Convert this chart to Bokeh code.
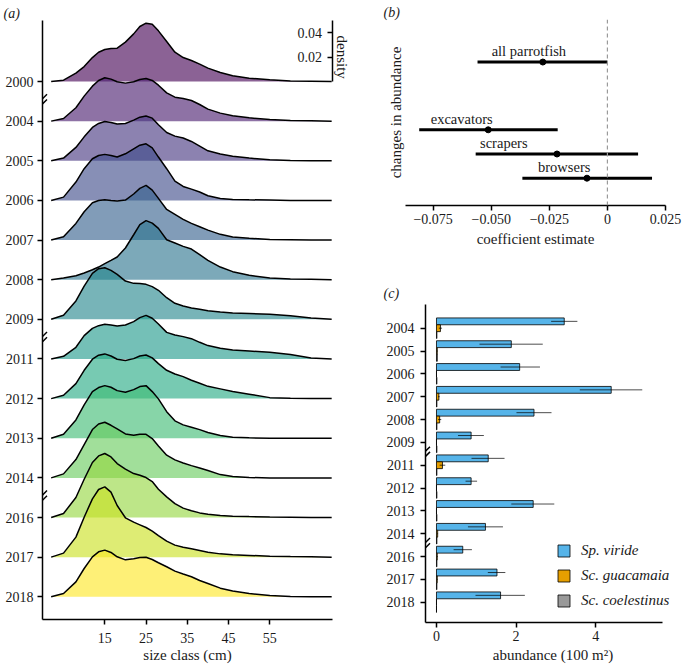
from bokeh.plotting import figure
from bokeh.models import (Range1d, LinearAxis, FixedTicker, Arrow, Span, Title,
                          Legend, LegendItem, CustomJSTickFormatter)
from bokeh.layouts import row, column
from bokeh.embed import file_html
from bokeh.resources import INLINE
from bokeh.palettes import viridis
from bokeh.core.properties import value

FONT = "Liberation Serif"
TXT = "#1a1a1a"

# ---------------- panel (a): size-class density ridges ----------------
size_cm = [2, 5, 8, 10, 12, 13.5, 15, 16.5, 18, 20, 22, 23.5, 25, 26.5, 28, 30,
           32, 34, 36, 38, 40, 43, 46, 50, 55, 60, 65, 70]
ridge_years = ["2000", "2004", "2005", "2006", "2007", "2008", "2009",
               "2011", "2012", "2013", "2014", "2016", "2017", "2018"]
# density values x 1000
d2000 = [0, 1.1, 6.9, 12.3, 19.7, 24.1, 26.3, 27.2, 27.4, 32.4, 39.2, 45.3, 48.0, 47.2, 41.7, 32.9, 24.1, 19.7, 17.3, 14.3, 11.0, 7.4, 4.7, 2.7, 1.4, 0.5, 0.3, 0]
d2004 = [0, 2.2, 11.0, 20.6, 28.8, 33.5, 35.7, 34.6, 32.4, 31.3, 32.4, 34.3, 35.1, 33.5, 29.6, 23.3, 19.7, 18.7, 17.0, 13.7, 9.9, 6.6, 4.4, 2.7, 1.4, 0.5, 0.3, 0]
d2005 = [0, 2.2, 11.0, 19.7, 27.4, 30.7, 32.4, 31.5, 30.2, 30.7, 33.5, 35.9, 36.8, 35.1, 29.6, 23.3, 20.3, 18.7, 15.9, 12.1, 8.2, 5.5, 3.8, 2.2, 0.8, 0.3, 0, 0]
d2006 = [0, 2.7, 15.1, 26.1, 34.3, 37.0, 37.9, 37.0, 35.7, 38.4, 42.5, 45.5, 46.6, 43.3, 35.7, 26.1, 15.9, 11.5, 9.3, 6.9, 3.8, 1.6, 0.8, 0.5, 0.3, 0, 0, 0]
d2007 = [0, 2.7, 13.7, 23.3, 30.7, 32.6, 33.2, 32.6, 32.1, 32.9, 37.9, 42.5, 45.0, 41.1, 34.3, 25.2, 21.1, 17.0, 13.7, 11.0, 8.2, 4.7, 2.5, 1.4, 0.5, 0.3, 0, 0]
d2008 = [0, 1.4, 3.3, 5.5, 8.2, 10.4, 13.2, 15.9, 18.7, 26.1, 37.0, 45.3, 48.6, 46.6, 42.2, 32.9, 30.2, 27.4, 25.2, 20.6, 15.9, 10.4, 6.6, 3.6, 1.4, 0.5, 0.3, 0]
d2009 = [0, 3.3, 15.1, 27.4, 37.9, 41.7, 42.5, 40.3, 37.0, 31.5, 29.6, 29.4, 28.8, 26.9, 23.9, 17.8, 13.2, 11.0, 9.3, 8.2, 7.1, 6.0, 5.2, 4.7, 4.1, 3.0, 1.1, 0]
d2011 = [0, 2.2, 9.6, 19.2, 25.2, 27.4, 28.5, 28.0, 27.2, 28.0, 30.7, 34.0, 35.9, 33.5, 28.8, 21.9, 19.7, 18.4, 16.7, 13.7, 11.0, 8.8, 7.4, 6.6, 5.5, 3.6, 0.8, 0]
d2012 = [0, 2.7, 12.3, 23.3, 32.4, 35.7, 36.8, 35.1, 32.4, 31.3, 32.9, 35.1, 35.9, 33.5, 28.8, 23.3, 20.3, 18.1, 15.1, 12.6, 10.1, 8.0, 5.8, 3.6, 0.8, 0.3, 0, 0]
d2013 = [0, 3.3, 15.1, 27.4, 38.4, 41.7, 43.3, 42.0, 39.2, 37.9, 40.0, 42.5, 43.3, 38.4, 32.4, 21.9, 14.3, 11.0, 9.1, 7.1, 4.7, 2.2, 0.8, 0.3, 0, 0, 0, 0]
d2014 = [0, 3.3, 15.1, 27.4, 39.8, 44.4, 45.8, 43.3, 40.3, 36.2, 35.1, 35.9, 35.9, 32.4, 26.3, 18.7, 14.8, 12.3, 10.1, 8.2, 6.0, 2.7, 1.1, 0.3, 0, 0, 0, 0]
d2016 = [0, 3.3, 16.5, 31.5, 45.3, 50.7, 52.7, 49.9, 44.4, 39.8, 36.2, 34.8, 32.9, 29.6, 23.3, 17.0, 11.5, 7.7, 5.5, 3.8, 2.7, 1.6, 1.1, 0.8, 0.5, 0.3, 0, 0]
d2017 = [0, 3.3, 16.5, 32.9, 48.0, 55.7, 57.9, 53.5, 42.5, 32.4, 28.8, 26.6, 24.4, 21.4, 17.8, 13.2, 9.9, 8.2, 6.9, 5.5, 4.1, 2.7, 1.9, 1.4, 0.8, 0.5, 0.3, 0]
d2018 = [0, 2.7, 12.3, 23.3, 32.9, 37.0, 38.4, 36.5, 32.9, 30.4, 31.3, 32.4, 32.6, 30.7, 28.0, 24.7, 21.1, 18.7, 16.5, 13.4, 11.0, 7.1, 4.7, 2.7, 1.1, 0.3, 0, 0]
density_milli = {"2000": d2000, "2004": d2004, "2005": d2005, "2006": d2006,
                 "2007": d2007, "2008": d2008, "2009": d2009, "2011": d2011,
                 "2012": d2012, "2013": d2013, "2014": d2014, "2016": d2016,
                 "2017": d2017, "2018": d2018}
size_ticks = [15, 25, 35, 45, 55]
density_ticks = [0.02, 0.04]

# ---------------- panel (b): coefficient estimates ----------------
fg_groups = ["all parrotfish", "excavators", "scrapers", "browsers"]
fg_coef = [-0.0278, -0.0513, -0.0217, -0.0088]
fg_lo = [-0.0559, -0.0810, -0.0567, -0.0366]
fg_hi = [0.0, -0.0214, 0.0132, 0.0192]
fg_label_x = [-0.0338, -0.0627, -0.0446, -0.0186]
fg_pos = [5.8, 3, 2, 1]
coef_ticks = [-0.075, -0.05, -0.025, 0, 0.025]

# ---------------- panel (c): abundance ----------------
ab_years = ["2004", "2005", "2006", "2007", "2008", "2009", "2011",
            "2012", "2013", "2014", "2016", "2017", "2018"]
viride = [3.21, 1.88, 2.09, 4.39, 2.45, 0.87, 1.30, 0.87, 2.43, 1.23, 0.66, 1.52, 1.61]
viride_lo = [2.88, 1.08, 1.61, 3.60, 2.01, 0.54, 0.88, 0.73, 1.88, 0.79, 0.43, 1.29, 0.98]
viride_hi = [3.54, 2.67, 2.60, 5.17, 2.89, 1.19, 1.71, 1.02, 2.96, 1.67, 0.89, 1.73, 2.22]
guacamaia = [0.10, 0.02, 0.0, 0.06, 0.08, 0.0, 0.15, 0.0, 0.0, 0.03, 0.02, 0.02, 0.0]
guacamaia_lo = [0.06, 0.01, 0.0, 0.04, 0.04, 0.0, 0.08, 0.0, 0.0, 0.02, 0.01, 0.01, 0.0]
guacamaia_hi = [0.14, 0.03, 0.0, 0.08, 0.12, 0.0, 0.22, 0.0, 0.0, 0.04, 0.03, 0.03, 0.0]
coelestinus = [0.01, 0.02, 0.01, 0.01, 0.01, 0.01, 0.01, 0.01, 0.01, 0.01, 0.01, 0.01, 0.0]
abund_ticks = [0, 2, 4]
species = ["Sp. viride", "Sc. guacamaia", "Sc. coelestinus"]
species_colors = ["#56B4E9", "#E69F00", "#999999"]


def style_axis(ax, size="14px"):
    ax.axis_line_color = "black"
    ax.axis_line_width = 1.5
    ax.major_tick_line_color = "black"
    ax.major_tick_line_width = 1.5
    ax.major_tick_out = 5
    ax.major_tick_in = 0
    ax.minor_tick_line_color = None
    ax.major_label_text_font = FONT
    ax.major_label_text_font_size = size
    ax.major_label_text_color = TXT
    ax.axis_label_text_font = FONT
    ax.axis_label_text_font_size = "15px"
    ax.axis_label_text_font_style = "normal"
    ax.axis_label_text_color = TXT


def add_breaks(p, x_edge, ys, dx, dy, sep):
    for yb in ys:
        for off in (-sep, sep):
            p.add_layout(Arrow(end=None, x_start=x_edge - dx, y_start=yb + off - dy,
                               x_end=x_edge + dx, y_end=yb + off + dy,
                               line_color="black", line_width=1.5))


def panel_title(p, txt, offset, standoff=0):
    p.add_layout(Title(text=txt, align="left", offset=offset, standoff=standoff,
                       text_font=FONT, text_font_style="italic",
                       text_font_size="14px", text_color=TXT), "above")


# ======================= figure (a) =======================
D = 0.03263                     # density units per ridge row
n_rows = len(ridge_years)
top_row = n_rows - 1
XA = (-0.1, 70.2)
YA = (-0.573, 14.539)
A_W, A_H = 354, 667
A_L, A_R, A_T, A_B = 42, 22, 20, 48
pa = figure(width=A_W, height=A_H, x_range=Range1d(*XA), y_range=Range1d(*YA),
            output_backend="svg", toolbar_location=None,
            min_border_left=A_L, min_border_right=A_R,
            min_border_top=A_T, min_border_bottom=A_B)
pa.grid.visible = False
pa.outline_line_color = None
pal = viridis(n_rows)
for i, yr in enumerate(ridge_years):
    base = top_row - i
    top = [base + v / 1000.0 / D for v in density_milli[yr]]
    pa.varea(x=size_cm, y1=[base] * len(size_cm), y2=top,
             fill_color=pal[i], fill_alpha=0.62)
    pa.line(x=size_cm, y=top, line_color="black", line_width=1.5)

yax = pa.yaxis[0]
style_axis(yax)
yax.ticker = FixedTicker(ticks=[top_row - i for i in range(n_rows)])
yax.major_label_overrides = {top_row - i: yr for i, yr in enumerate(ridge_years)}
yax.major_label_standoff = 4

xax = pa.xaxis[0]
style_axis(xax)
xax.ticker = FixedTicker(ticks=size_ticks)
xax.axis_label = "size class (cm)"
xax.major_label_standoff = 8
xax.axis_label_standoff = 1

pa.extra_y_ranges = {"dens": Range1d(start=(YA[0] - top_row) * D, end=(YA[1] - top_row) * D)}
dax = LinearAxis(y_range_name="dens", ticker=FixedTicker(ticks=density_ticks),
                 bounds=(0, (YA[1] - top_row) * D))
style_axis(dax)
dax.major_tick_in = 5
dax.major_tick_out = 0
dax.major_label_standoff = -35
pa.add_layout(dax, "right")
pa.add_layout(Title(text="density", align="left", offset=15, standoff=3,
                    text_font=FONT, text_font_style="normal",
                    text_font_size="15px", text_color=TXT), "right")

sxa = (A_W - A_L - A_R) / (XA[1] - XA[0])
sya = (A_H - A_T - A_B) / (YA[1] - YA[0])
add_breaks(pa, XA[0], [12.5, 6.5, 2.5], 4.5 / sxa, 4.5 / sya, 2.6 / sya)
panel_title(pa, "(a)", offset=-39)

# ======================= figure (b) =======================
XB = (-0.0869, 0.025)
YB = (-0.128, 7.558)
B_W, B_H = 328, 252
B_L, B_R, B_T, B_B = 51, 17, 19, 47
pb = figure(width=B_W, height=B_H, x_range=Range1d(*XB), y_range=Range1d(*YB),
            output_backend="svg", toolbar_location=None,
            min_border_left=B_L, min_border_right=B_R,
            min_border_top=B_T, min_border_bottom=B_B)
pb.grid.visible = False
pb.outline_line_color = None
pb.add_layout(Span(location=0, dimension="height", line_color="#9a9a9a",
                   line_dash="4 3", line_width=1.2))
pb.segment(x0=fg_lo, y0=fg_pos, x1=fg_hi, y1=fg_pos, line_color="black", line_width=3)
pb.scatter(x=fg_coef, y=fg_pos, size=6, color="black")
pb.text(x=fg_label_x, y=fg_pos, text=fg_groups, text_font=value(FONT),
        text_font_size="14.5px", text_color=TXT, text_align="center",
        text_baseline="bottom", y_offset=-3)

bx = pb.xaxis[0]
style_axis(bx)
bx.ticker = FixedTicker(ticks=coef_ticks)
bx.formatter = CustomJSTickFormatter(
    code="return tick === 0 ? '0' : (tick < 0 ? '\u2212' : '') + Math.abs(tick).toFixed(3);")
bx.axis_label = "coefficient estimate"
bx.major_label_standoff = 3
bx.axis_label_standoff = 4

by = pb.yaxis[0]
style_axis(by)
by.ticker = FixedTicker(ticks=[])
by.axis_line_color = None
by.major_tick_out = 0
by.major_label_standoff = 0
by.axis_label = "changes in abundance"
by.axis_label_standoff = 2
panel_title(pb, "(b)", offset=-22)

# ======================= figure (c) =======================
XC = (-0.276, 6.131)
XC_AXIS_END = 5.69
YC = (0.111, 14.038)
C_W, C_H = 328, 415
C_L, C_R, C_T, C_B = 71, 2, 52, 45
pc = figure(width=C_W, height=C_H, x_range=Range1d(*XC), y_range=Range1d(*YC),
            output_backend="svg", toolbar_location=None,
            min_border_left=C_L, min_border_right=C_R,
            min_border_top=C_T, min_border_bottom=C_B)
pc.grid.visible = False
pc.outline_line_color = None
n_ab = len(ab_years)
ab_pos = [n_ab - i for i in range(n_ab)]
dodge = 0.3
r_v = pc.hbar(y=[p + dodge for p in ab_pos], left=0, right=viride, height=dodge,
              fill_color=species_colors[0], line_color="black", line_width=0.8)
r_g = pc.hbar(y=ab_pos, left=0, right=guacamaia, height=dodge,
              fill_color=species_colors[1], line_color="black", line_width=0.8)
r_c = pc.hbar(y=[p - dodge for p in ab_pos], left=0, right=coelestinus, height=dodge,
              fill_color=species_colors[2], line_color="black", line_width=0.8)
pc.segment(x0=viride_lo, y0=[p + dodge for p in ab_pos], x1=viride_hi,
           y1=[p + dodge for p in ab_pos], line_color="black", line_alpha=0.7, line_width=1)
pc.segment(x0=guacamaia_lo, y0=ab_pos, x1=guacamaia_hi, y1=ab_pos,
           line_color="black", line_alpha=0.7, line_width=1)

cx = pc.xaxis[0]
style_axis(cx)
cx.ticker = FixedTicker(ticks=abund_ticks)
cx.bounds = (XC[0], XC_AXIS_END)
cx.axis_label = "abundance (100 m\u00b2)"
cx.major_label_standoff = 3
cx.axis_label_standoff = 3

cy = pc.yaxis[0]
style_axis(cy)
cy.ticker = FixedTicker(ticks=ab_pos)
cy.major_label_overrides = {p: yr for p, yr in zip(ab_pos, ab_years)}
cy.major_label_standoff = 6

legend = Legend(items=[LegendItem(label=species[0], renderers=[r_v]),
                       LegendItem(label=species[1], renderers=[r_g]),
                       LegendItem(label=species[2], renderers=[r_c])],
                location=(131, 13), glyph_width=15, glyph_height=15,
                label_standoff=10, spacing=8, padding=0, margin=0,
                label_height=15, border_line_color=None, background_fill_alpha=0,
                label_text_font=FONT, label_text_font_style="italic",
                label_text_font_size="15px", label_text_color=TXT)
pc.add_layout(legend)

sxc = (C_W - C_L - C_R) / (XC[1] - XC[0])
syc = (C_H - C_T - C_B) / (YC[1] - YC[0])
add_breaks(pc, XC[0], [7.5, 3.5], 4.5 / sxc, 4.5 / syc, 2.6 / syc)
panel_title(pc, "(c)", offset=-42, standoff=8)

layout = row(pa, column(row(pb), row(pc)))
open("out.html", "w").write(file_html(layout, INLINE))
